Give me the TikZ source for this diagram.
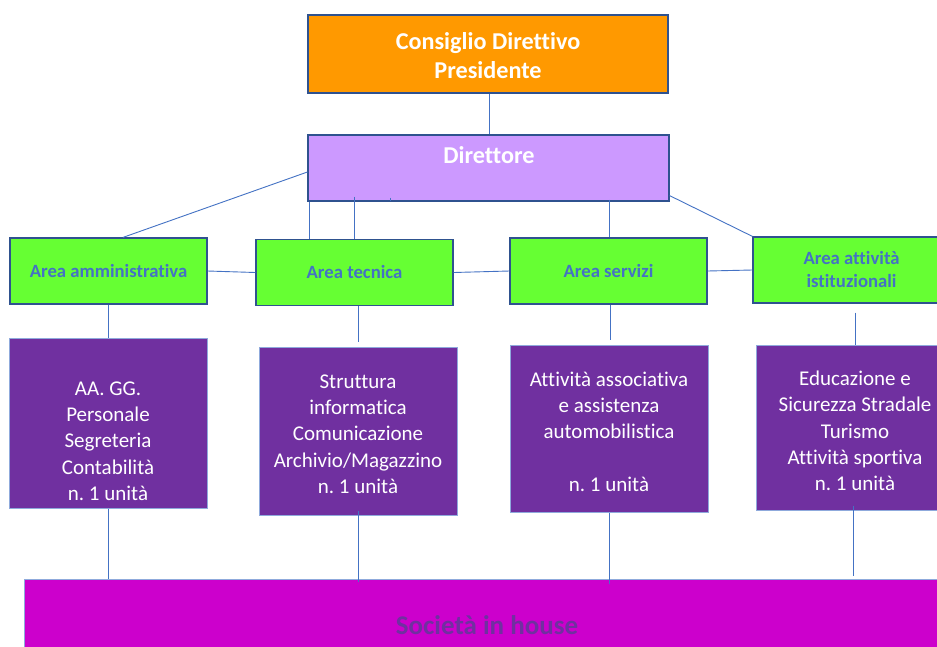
\documentclass[tikz,border=0pt]{standalone}
\usepackage{fontspec}
\setmainfont[Ligatures=NoCommon]{Carlito}
\definecolor{orangebox}{HTML}{FF9900}
\definecolor{violetbox}{HTML}{CC99FF}
\definecolor{greenbox}{HTML}{66FF33}
\definecolor{purplebox}{HTML}{7030A0}
\definecolor{magentabox}{HTML}{CC00CC}
\definecolor{bdr}{HTML}{2F528F}
\definecolor{lightbdr}{HTML}{8FAADC}
\definecolor{lnk}{HTML}{4472C4}
\definecolor{areatext}{HTML}{4472C4}
\begin{document}
\frenchspacing
\begin{tikzpicture}[x=1pt,y=-1pt,
  box/.style={rectangle, draw=bdr, line width=1.2pt, inner sep=0pt},
  topbox/.style={box, fill=orangebox, minimum width=360pt, minimum height=78pt},
  dirbox/.style={box, fill=violetbox, minimum width=361pt, minimum height=66pt},
  areabox/.style={box, fill=greenbox, minimum width=197pt, minimum height=66pt,
    text=areatext, font=\fontsize{18.7}{23}\selectfont\bfseries, align=center},
  unitbox/.style={rectangle, draw=lightbdr, line width=1pt, fill=purplebox, inner sep=0pt,
    minimum width=198pt},
  unittext/.style={text=white, font=\fontsize{21}{26.3}\selectfont, align=center, inner sep=0pt},
  whitetitle/.style={text=white, font=\fontsize{24.2}{29}\selectfont\bfseries, align=center, inner sep=0pt},
  conn/.style={draw=lnk, line width=0.9pt}
]
\useasboundingbox (0,0) rectangle (937,646);
\fill[white] (0,0) rectangle (937,646);
\clip (0,0) rectangle (937,646);

% top levels
\node[topbox] (cd) at (488,54) {};
\node[whitetitle] (cdtext) at (488,55.5) {Consiglio Direttivo\\Presidente};
\node[dirbox] (dir) at (488.5,168) {};
\node[whitetitle] (dirtext) at (489,155) {Direttore};

% areas
\node[areabox] (amm) at (108.5,271) {Area amministrativa};
\node[areabox] (tec) at (354.5,272.5) {Area tecnica};
\node[areabox] (serv) at (608.5,271) {Area servizi};
\node[areabox] (att) at (851.5,270) {Area attività\\istituzionali};

% units
\node[unitbox, minimum height=170pt] (u1) at (108,423) {};
\node[unittext] (u1t) at (108,441) {AA. GG.\\Personale\\Segreteria\\Contabilità\\n. 1 unità};
\node[unitbox, minimum height=168pt] (u2) at (358,431) {};
\node[unittext] (u2t) at (358,434) {Struttura\\informatica\\Comunicazione\\Archivio/Magazzino\\n. 1 unità};
\node[unitbox, minimum height=167pt] (u3) at (609,428.5) {};
\node[unittext] (u3t) at (609,431.5) {Attività associativa\\e assistenza\\automobilistica\\[26.3pt]n. 1 unità};
\node[unitbox, minimum height=165pt] (u4) at (855,427.5) {};
\node[unittext] (u4t) at (855,431) {Educazione e\\Sicurezza Stradale\\Turismo\\Attività sportiva\\n. 1 unità};

% company
\node[rectangle, draw=lightbdr, line width=1pt, fill=magentabox, minimum width=940pt,
  minimum height=110pt, inner sep=0pt] (soc) at (494,634) {};
\node[text=purplebox, font=\fontsize{27}{32}\selectfont\bfseries, inner sep=0pt] (soctext) at (487,625) {Società in house};

% x positions of connectors
\coordinate (xa) at (489,0);
\coordinate (xb) at (309,0);
\coordinate (xc) at (354,0);
\coordinate (xd) at (609,0);
\coordinate (xe) at (390,0);
\coordinate (xf) at (108,0);
\coordinate (xg) at (358,0);
\coordinate (xh) at (610,0);
\coordinate (xi) at (855,0);
\coordinate (xj) at (853,0);
\coordinate (xk) at (123,0);

% connectors
\draw[conn] (cd.south -| xa) -- (dir.north -| xa);
\draw[conn] ([yshift=-4pt]dir.west) -- (amm.north -| xk);
\draw[conn] (dir.south -| xb) -- (tec.north -| xb);
\draw[conn] ([yshift=5pt]dir.south -| xc) -- (tec.north -| xc);
\draw[conn] ([yshift=4pt]dir.south -| xe) -- ([yshift=1pt]dir.south -| xe);
\draw[conn] ([yshift=2pt]dir.south -| xd) -- (serv.north -| xd);
\draw[conn] ([yshift=6pt]dir.south east) -- (att.north west);
\draw[conn] (amm.east) -- (tec.west);
\draw[conn] (tec.east) -- (serv.west);
\draw[conn] (serv.east) -- (att.west);
\draw[conn] (amm.south -| xf) -- (u1.north -| xf);
\draw[conn] (tec.south -| xg) -- ([yshift=5pt]u2.north -| xg);
\draw[conn] (serv.south -| xh) -- ([yshift=5pt]u3.north -| xh);
\draw[conn] ([yshift=-9pt]att.south -| xi) -- (u4.north -| xi);
\draw[conn] (u1.south -| xf) -- (soc.north -| xf);
\draw[conn] ([yshift=5pt]u2.south -| xg) -- ([yshift=-3pt]soc.north -| xg);
\draw[conn] (u3.south -| xd) -- ([yshift=-5pt]soc.north -| xd);
\draw[conn] ([yshift=5pt]u4.south -| xj) -- ([yshift=3pt]soc.north -| xj);
\end{tikzpicture}
\end{document}
